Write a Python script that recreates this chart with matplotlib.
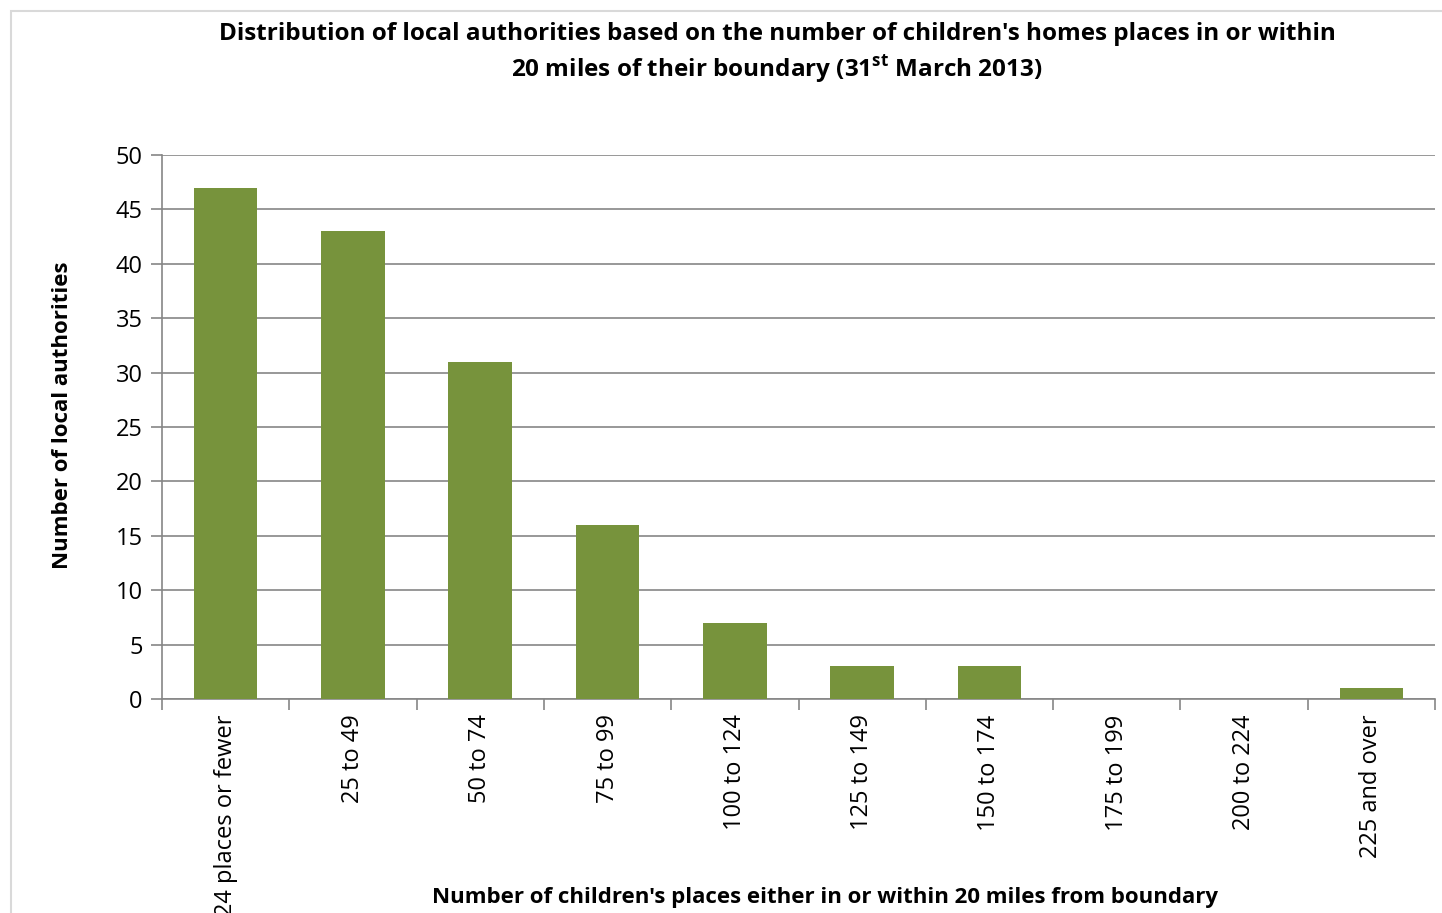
import matplotlib
matplotlib.use('Agg')
import matplotlib.pyplot as plt
from matplotlib.patches import Rectangle

categories = ['24 places or fewer', '25 to 49', '50 to 74', '75 to 99', '100 to 124',
              '125 to 149', '150 to 174', '175 to 199', '200 to 224', '225 and over']
counts = [47, 43, 31, 16, 7, 3, 3, 0, 0, 1]
y_ticks = [0, 5, 10, 15, 20, 25, 30, 35, 40, 45, 50]

plt.rcParams['font.family'] = ['Open Sans', 'DejaVu Sans']
plt.rcParams['mathtext.fontset'] = 'custom'
plt.rcParams['mathtext.rm'] = 'Open Sans'
plt.rcParams['mathtext.bf'] = 'Open Sans:bold'

W, H = 1442, 913
fig = plt.figure(figsize=(W / 100, H / 100), dpi=100)
fig.patch.set_facecolor('white')

# outer chart border (cropped on right/bottom)
fig.patches.append(Rectangle((11 / W, -0.1), 1.2, 1 - 11 / H + 0.1,
                             transform=fig.transFigure, fill=False,
                             edgecolor='#d9d9d9', linewidth=1.5))

ax = fig.add_axes([162 / W, 1 - 699 / H, (1435 - 162) / W, (699 - 155) / H])

x = list(range(len(categories)))
ax.bar(x, counts, width=0.5, color='#77933C', zorder=3)

ax.set_xlim(-0.5, len(categories) - 0.5)
ax.set_ylim(0, 50)
ax.set_yticks(y_ticks)
ax.set_yticklabels([str(v) for v in y_ticks], fontsize=17)
ax.yaxis.grid(True, color='#868686', linewidth=1.2, zorder=0)

ax.set_xticks(x)
ax.set_xticklabels(categories, rotation=90, fontsize=17, va='top')
ax.tick_params(axis='x', length=0, pad=11)
ax.set_xticks([i - 0.5 for i in range(len(categories) + 1)], minor=True)
ax.tick_params(axis='x', which='minor', length=8, color='#868686', width=1.2)
ax.tick_params(axis='y', length=8, color='#868686', width=1.2, pad=6)

for s in ['top', 'right']:
    ax.spines[s].set_visible(False)
for s in ['left', 'bottom']:
    ax.spines[s].set_color('#868686')
    ax.spines[s].set_linewidth(1.2)

fig.text(777 / W, 1 - 34 / H,
         "Distribution of local authorities based on the number of children's homes places in or within",
         ha='center', va='center', fontsize=17.5, fontweight='bold')
fig.text(777 / W, 1 - 70 / H,
         r"20 miles of their boundary (31$^{\mathbf{st}}$ March 2013)",
         ha='center', va='center', fontsize=17.5, fontweight='bold')

fig.text(63 / W, 1 - 415 / H, 'Number of local authorities', rotation=90,
         ha='center', va='center', fontsize=16, fontweight='bold')
fig.text(825 / W, 1 - 897 / H,
         "Number of children's places either in or within 20 miles from boundary",
         ha='center', va='center', fontsize=16, fontweight='bold')

fig.savefig('out.png', dpi=100, facecolor=fig.get_facecolor())
